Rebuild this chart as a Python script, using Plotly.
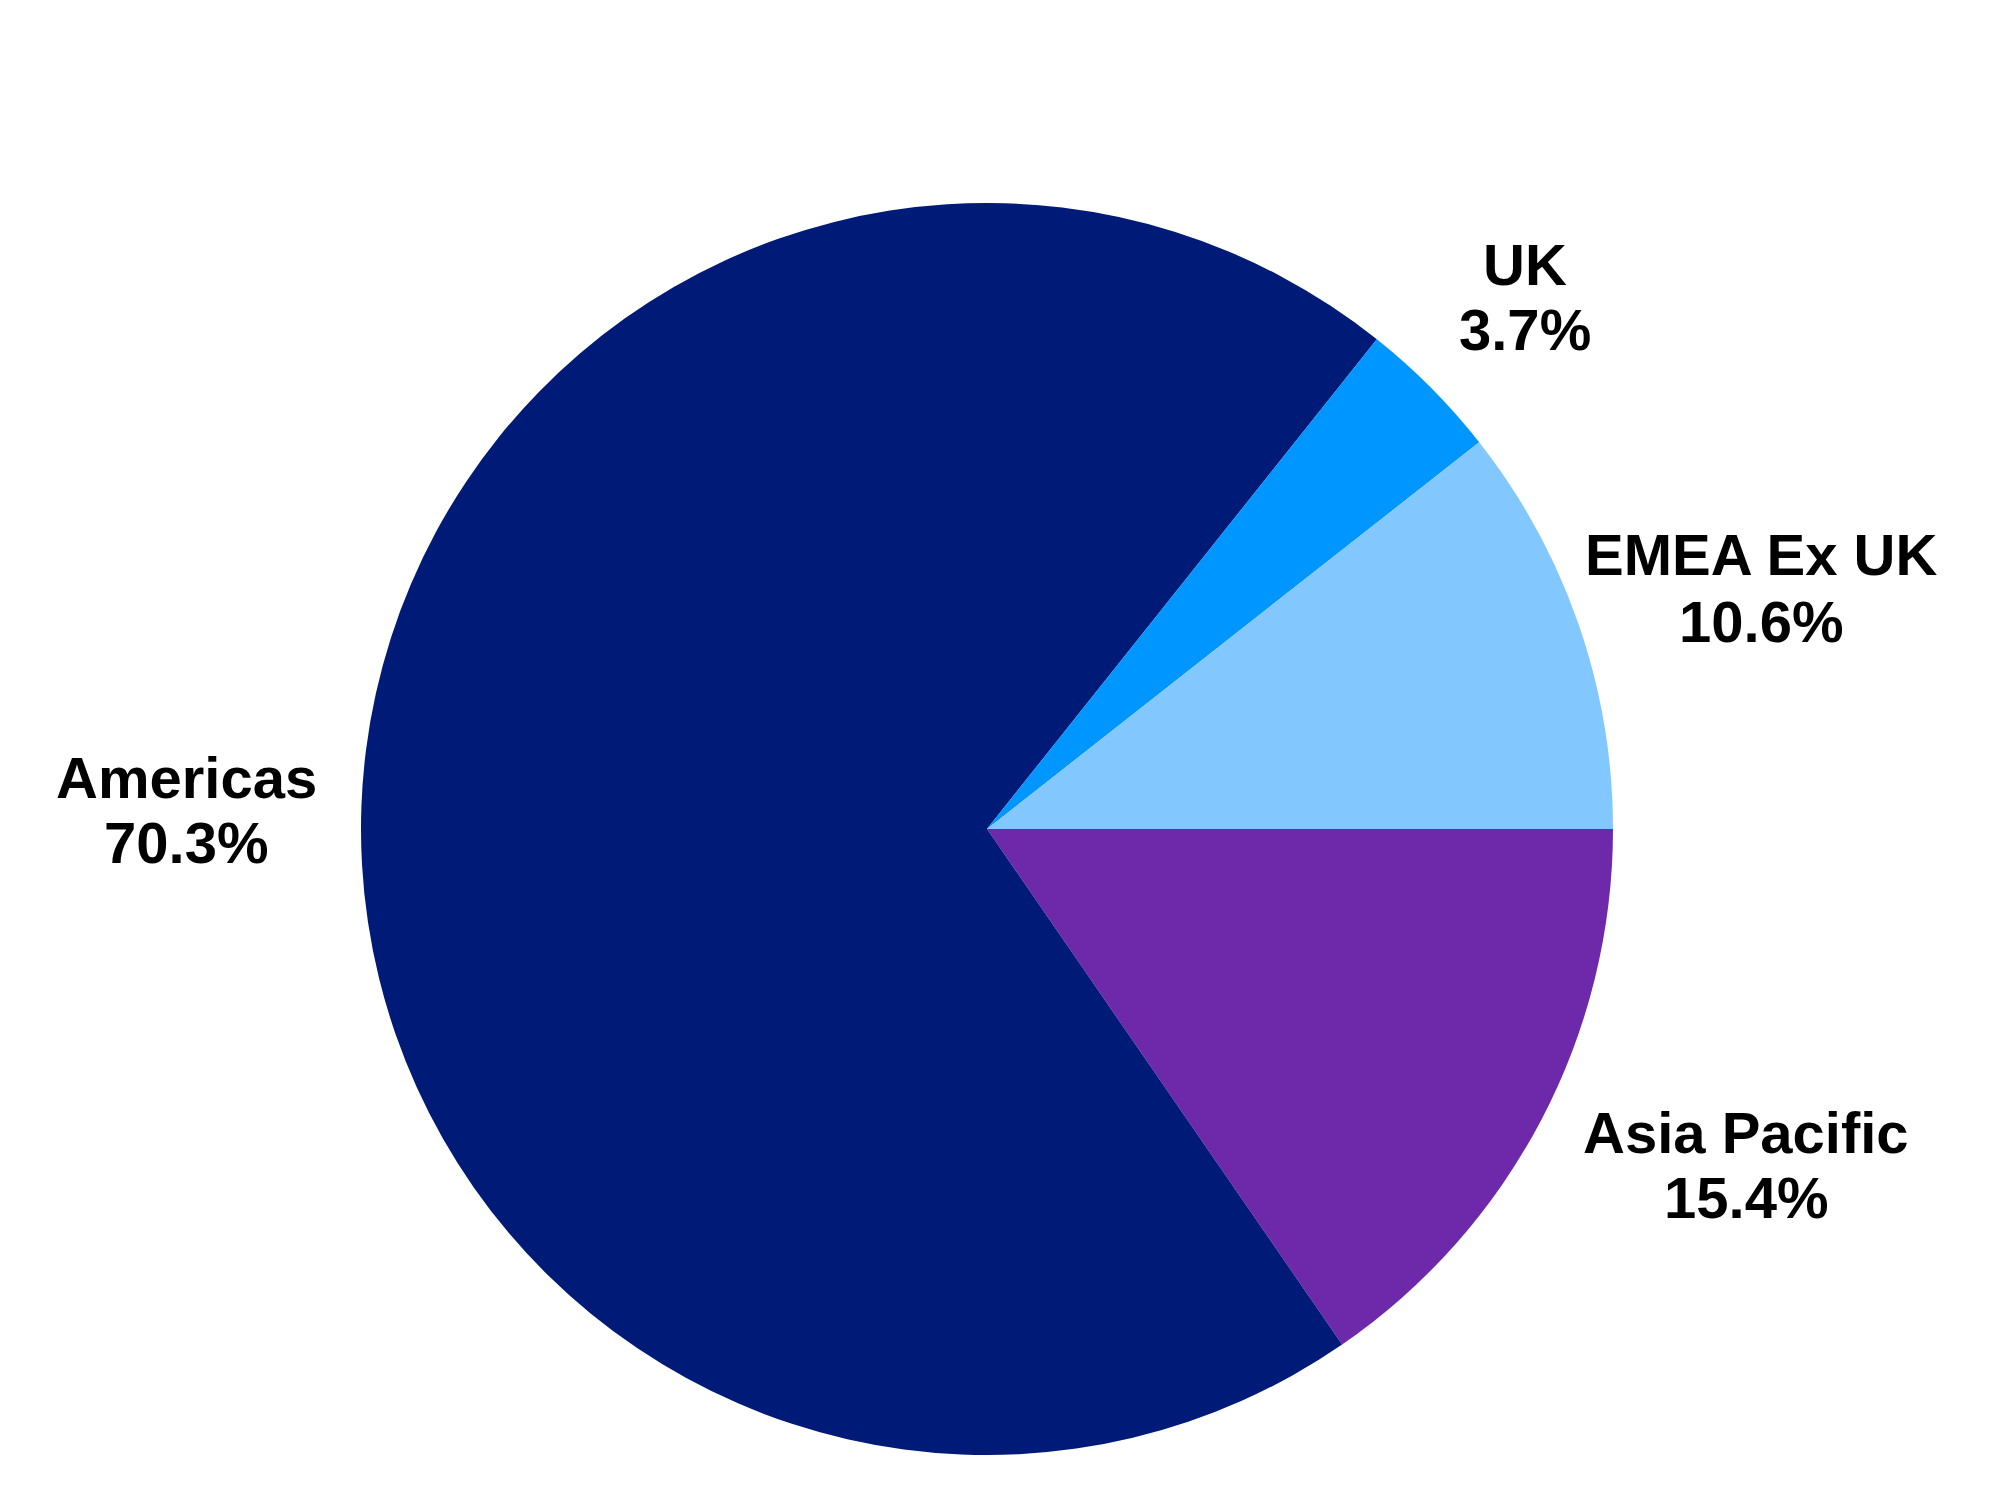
import plotly.graph_objects as go

labels = ["Asia Pacific", "Americas", "UK", "EMEA Ex UK"]
values = [15.4, 70.3, 3.7, 10.6]
colors = ["#6E28AA", "#001A78", "#0096FF", "#82C8FF"]

W, H = 2000, 1500
OFF = 8  # page body margin

# label anchor positions in pixels (center x, baseline of name line, baseline of value line)
label_pos = {
    "UK": (1525, 285, 350),
    "EMEA Ex UK": (1761, 575, 642),
    "Americas": (186, 798, 863),
    "Asia Pacific": (1746, 1153, 1218),
}

fig = go.Figure(go.Pie(
    labels=labels, values=values, sort=False, direction="clockwise", rotation=90,
    marker=dict(colors=colors, line=dict(width=0)),
    textinfo="none", hoverinfo="label+percent", showlegend=False,
    domain=dict(x=[(361 - OFF) / W, (1613 - OFF) / W],
                y=[(H - 1455 + OFF) / H, (H - 203 + OFF) / H]),
))

fs = 58
font = dict(family="Liberation Sans, Arial, sans-serif", size=fs, color="black")
for lab, val in zip(labels, values):
    cx, b1, b2 = label_pos[lab]
    for txt, b in ((f"<b>{lab}</b>", b1), (f"<b>{val:.1f}%</b>", b2)):
        yc = b - 0.36 * fs - OFF
        fig.add_annotation(x=(cx - OFF) / W, y=1 - yc / H, xref="paper", yref="paper",
                           text=txt, showarrow=False, xanchor="center", yanchor="middle",
                           font=font)

fig.update_layout(width=W, height=H, margin=dict(l=0, r=0, t=0, b=0),
                  paper_bgcolor="white", plot_bgcolor="white")
fig.write_html("out.html")
